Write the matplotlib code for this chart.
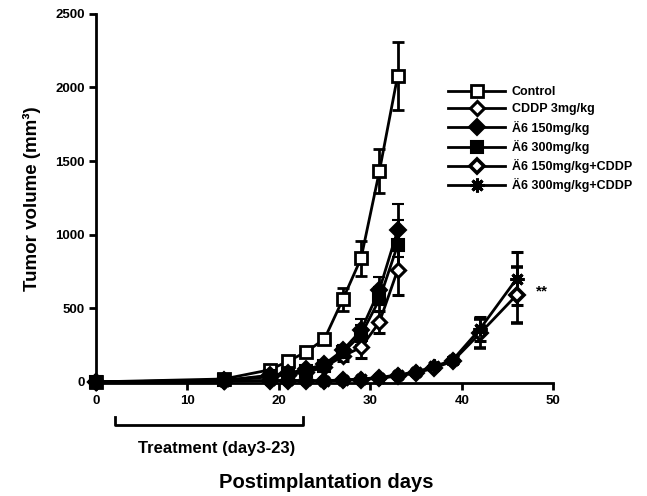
import matplotlib
matplotlib.use("Agg")
import matplotlib.pyplot as plt
from matplotlib.lines import Line2D

plt.rcParams['font.family'] = ['Liberation Sans', 'DejaVu Sans']

days_mono = [0, 14, 19, 21, 23, 25, 27, 29, 31, 33]
days_combo = [0, 14, 19, 21, 23, 25, 27, 29, 31, 33, 35, 37, 39, 42, 46]

control = [0, 20, 82, 140, 204, 292, 560, 840, 1430, 2080]
control_err = [0, 5, 15, 20, 25, 30, 80, 120, 150, 230]
cddp = [0, 8, 35, 50, 65, 100, 175, 235, 405, 760]
cddp_err = [0, 4, 10, 12, 15, 20, 35, 70, 75, 170]
a6_150 = [0, 10, 45, 60, 85, 120, 215, 350, 625, 1030]
a6_150_err = [0, 4, 10, 12, 15, 20, 35, 80, 90, 180]
a6_300 = [0, 10, 40, 55, 75, 110, 200, 320, 560, 930]
a6_300_err = [0, 4, 10, 12, 15, 20, 35, 70, 85, 170]
a6_150_cddp = [0, 5, 8, 8, 8, 5, 10, 15, 25, 40, 60, 95, 140, 330, 590]
a6_150_cddp_err = [0, 3, 5, 5, 5, 4, 5, 6, 8, 10, 12, 15, 20, 100, 190]
a6_300_cddp = [0, 5, 10, 10, 10, 8, 14, 20, 30, 48, 68, 105, 148, 360, 700]
a6_300_cddp_err = [0, 3, 5, 5, 5, 4, 5, 6, 8, 10, 12, 15, 20, 80, 180]

labels = ['Control', 'CDDP 3mg/kg', 'Ä6 150mg/kg', 'Ä6 300mg/kg',
          'Ä6 150mg/kg+CDDP', 'Ä6 300mg/kg+CDDP']

fig = plt.figure(figsize=(6.47, 4.96), dpi=100)
ax = fig.add_axes([0.148, 0.227, 0.707, 0.745])

series = [
    (days_mono, control, control_err, dict(marker='s', mfc='white', mec='black', ms=9, mew=2)),
    (days_mono, cddp, cddp_err, dict(marker='D', mfc='white', mec='black', ms=7, mew=2.2)),
    (days_mono, a6_150, a6_150_err, dict(marker='D', mfc='black', mec='black', ms=8, mew=1.5)),
    (days_mono, a6_300, a6_300_err, dict(marker='s', mfc='black', mec='black', ms=8, mew=1.5)),
    (days_combo, a6_150_cddp, a6_150_cddp_err, dict(marker='D', mfc='white', mec='black', ms=7, mew=2.6)),
    (days_combo, a6_300_cddp, a6_300_cddp_err, dict(marker=(8, 2, 0), mfc='black', mec='black', ms=10, mew=2.2)),
]

handles = []
for (x, y, e, st), lab in zip(series, labels):
    ax.errorbar(x, y, yerr=e, color='black', lw=2, elinewidth=2, capsize=4,
                capthick=2, clip_on=False, zorder=3, **st)
    handles.append(Line2D([], [], color='black', lw=2, **st))

ax.set_xlim(0, 50)
ax.set_ylim(-10, 2500)
ax.set_xticks([0, 10, 20, 30, 40, 50])
ax.set_yticks([0, 500, 1000, 1500, 2000, 2500])
for s in ['top', 'right']:
    ax.spines[s].set_visible(False)
for s in ['left', 'bottom']:
    ax.spines[s].set_linewidth(2)
ax.tick_params(direction='out', length=5, width=2, labelsize=9.5, pad=3)
for t in ax.get_xticklabels() + ax.get_yticklabels():
    t.set_fontweight('bold')

ax.set_ylabel('Tumor volume (mm³)', fontsize=13.5, fontweight='bold', labelpad=10)
fig.text(0.505, 0.028, 'Postimplantation days', ha='center', va='center',
         fontsize=14.5, fontweight='bold')

# treatment bracket
ax.plot([2.1, 2.1, 22.7, 22.7], [-238, -292, -292, -238], color='black', lw=2,
        clip_on=False)
ax.text(13.2, -450, 'Treatment (day3-23)', ha='center', va='center',
        fontsize=12, fontweight='bold')

ax.text(48.8, 612, '**', ha='center', va='center', fontsize=11, fontweight='bold')

leg = ax.legend(handles, labels, loc='upper left', bbox_to_anchor=(0.759, 0.818),
                frameon=False, fontsize=9, handlelength=4.6, handletextpad=0.5,
                labelspacing=0.42, borderaxespad=0)
for t in leg.get_texts():
    t.set_fontweight('bold')

fig.savefig('out.png', dpi=100)
